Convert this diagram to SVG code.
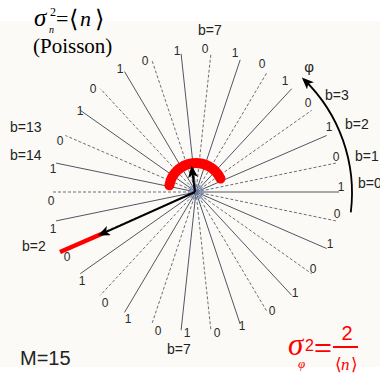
<svg xmlns="http://www.w3.org/2000/svg" width="380" height="374" viewBox="0 0 380 374">
<style>
.sol{stroke:#505666;stroke-width:1;fill:none}
.das{stroke:#6a6e78;stroke-width:1;stroke-dasharray:3 2;fill:none}
.num{font-family:"Liberation Sans",Arial,sans-serif;font-size:12px;fill:#2a2a2a;text-anchor:middle}
.bl{font-family:"Liberation Sans",Arial,sans-serif;font-size:14px;fill:#222}
.ser{font-family:"Liberation Serif","DejaVu Serif",serif;fill:#000}
.sans{font-family:"Liberation Sans",Arial,sans-serif}
.red{fill:#ff0000}
</style>
<defs>
<marker id="ah" viewBox="0 0 12 10" refX="9" refY="5" markerWidth="12" markerHeight="10" orient="auto" markerUnits="userSpaceOnUse">
<path d="M0,0 L12,5 L0,10 L3,5 Z" fill="#000"/>
</marker>
<radialGradient id="glow">
<stop offset="0" stop-color="#6f86c0" stop-opacity="0.6"/>
<stop offset="1" stop-color="#6f86c0" stop-opacity="0"/>
</radialGradient>
</defs>
<rect width="380" height="374" fill="#fff"/>
<rect x="0" y="21" width="380" height="346" fill="#fcfaf6"/>

<g id="spokes">
<path class="sol" d="M196,192L339,192"/>
<path class="das" d="M196,192L335.9,163.1"/>
<path class="sol" d="M196,192L326.6,135.5"/>
<path class="das" d="M196,192L311.7,110.3"/>
<path class="sol" d="M196,192L291.7,88.7"/>
<path class="das" d="M196,192L267.5,71.6"/>
<path class="sol" d="M196,192L240.2,59.8"/>
<path class="das" d="M196,192L210.9,53.8"/>
<path class="sol" d="M196,192L181.1,53.8"/>
<path class="das" d="M196,192L151.8,59.8"/>
<path class="sol" d="M196,192L124.5,71.6"/>
<path class="das" d="M196,192L100.3,88.7"/>
<path class="sol" d="M196,192L80.3,110.3"/>
<path class="das" d="M196,192L65.4,135.5"/>
<path class="sol" d="M196,192L56.1,163.1"/>
<path class="das" d="M196,192L53,192"/>
<path class="sol" d="M196,192L56.1,220.9"/>
<path class="das" d="M196,192L65.4,248.5"/>
<path class="sol" d="M196,192L80.3,273.7"/>
<path class="das" d="M196,192L100.3,295.3"/>
<path class="sol" d="M196,192L124.5,312.4"/>
<path class="das" d="M196,192L151.8,324.2"/>
<path class="sol" d="M196,192L181.1,330.2"/>
<path class="das" d="M196,192L210.9,330.2"/>
<path class="sol" d="M196,192L240.2,324.2"/>
<path class="das" d="M196,192L267.5,312.4"/>
<path class="sol" d="M196,192L291.7,295.3"/>
<path class="das" d="M196,192L311.7,273.7"/>
<path class="sol" d="M196,192L326.6,248.5"/>
<path class="das" d="M196,192L335.9,220.9"/>
<circle cx="196" cy="192" r="11" fill="url(#glow)"/>
</g>

<g id="bit-labels">
<text class="num" x="341" y="190.5">1</text>
<text class="num" x="336" y="160.5">0</text>
<text class="num" x="329" y="130.5">1</text>
<text class="num" x="308" y="106.5">0</text>
<text class="num" x="285" y="84.5">1</text>
<text class="num" x="262" y="67.5">0</text>
<text class="num" x="235" y="56.5">1</text>
<text class="num" x="205" y="52.5">0</text>
<text class="num" x="177" y="54.5">1</text>
<text class="num" x="145" y="64.5">0</text>
<text class="num" x="120" y="72.5">1</text>
<text class="num" x="93" y="92.5">0</text>
<text class="num" x="80" y="114.5">1</text>
<text class="num" x="60" y="144.5">0</text>
<text class="num" x="53" y="172.5">1</text>
<text class="num" x="51" y="204.5">0</text>
<text class="num" x="53" y="232.5">1</text>
<text class="num" x="67" y="260.5">0</text>
<text class="num" x="82" y="284.5">1</text>
<text class="num" x="105" y="306.5">0</text>
<text class="num" x="128" y="322.5">1</text>
<text class="num" x="158" y="334.5">0</text>
<text class="num" x="187" y="336.5">1</text>
<text class="num" x="217" y="336.5">0</text>
<text class="num" x="242" y="329.5">1</text>
<text class="num" x="272" y="314.5">0</text>
<text class="num" x="295" y="296.5">1</text>
<text class="num" x="313" y="272.5">0</text>
<text class="num" x="330" y="247.5">1</text>
<text class="num" x="337" y="217.5">0</text>
</g>

<g id="b-labels">
<text class="bl" x="358" y="188">b=0</text>
<text class="bl" x="355" y="161">b=1</text>
<text class="bl" x="345" y="129">b=2</text>
<text class="bl" x="325" y="100">b=3</text>
<text class="bl" x="198" y="35">b=7</text>
<text class="bl" x="10" y="132">b=13</text>
<text class="bl" x="10" y="160">b=14</text>
<text class="bl" x="22" y="251">b=2</text>
<text class="bl" x="167" y="354">b=7</text>
</g>

<g id="connectors">
<path d="M350.8,212.3 A158,158 0 0 0 304,79.5" fill="none" stroke="#000" stroke-width="1.8" marker-end="url(#ah)"/>
<path d="M169.4,185.3 A27,27 0 0 1 220.5,178.6" fill="none" stroke="#ff0000" stroke-width="10" stroke-linecap="round"/>
<path d="M60,252 L106,232" fill="none" stroke="#ff0000" stroke-width="4.5"/>
<path d="M195,192 L100.7,234.3" fill="none" stroke="#000" stroke-width="2" marker-end="url(#ah)"/>
<path d="M195,192 L191.9,168.5" fill="none" stroke="#000" stroke-width="2" marker-end="url(#ah)"/>
</g>

<g id="phi-label">
<text x="309" y="72" text-anchor="middle" class="sans" font-size="15" fill="#222">φ</text>
</g>

<g id="poisson-formula">
<text x="34" y="26" font-size="25" font-style="italic" class="ser">σ</text>
<text x="50" y="16" font-size="12" class="ser">2</text>
<text x="49" y="33" font-size="10" font-style="italic" class="ser">n</text>
<text x="56" y="26" font-size="22" class="ser">=</text>
<text x="69" y="27" font-size="24" class="ser">⟨</text>
<text x="80" y="26" font-size="22" font-style="italic" class="ser">n</text>
<text x="95" y="27" font-size="24" class="ser">⟩</text>
<text x="33" y="53" font-size="21" class="ser">(Poisson)</text>
</g>

<g id="phase-formula">
<text x="288" y="355" font-size="31" font-style="italic" class="ser red">σ</text>
<text x="298" y="368" font-size="13" font-style="italic" class="ser red">φ</text>
<text x="305" y="351" font-size="16" class="sans red">2</text>
<text x="314" y="356" font-size="26" class="sans red" textLength="18" lengthAdjust="spacingAndGlyphs">=</text>
<text x="347" y="340" font-size="20" text-anchor="middle" class="sans red">2</text>
<line x1="333" y1="347" x2="358" y2="347" stroke="#ff0000" stroke-width="2"/>
<text x="335" y="370" font-size="17" class="ser red">⟨</text>
<text x="341" y="370" font-size="17" font-style="italic" class="ser red">n</text>
<text x="351" y="370" font-size="17" class="ser red">⟩</text>
</g>

<g id="m-label">
<text x="20" y="365" class="sans" font-size="20" fill="#222">M=15</text>
</g>
</svg>
